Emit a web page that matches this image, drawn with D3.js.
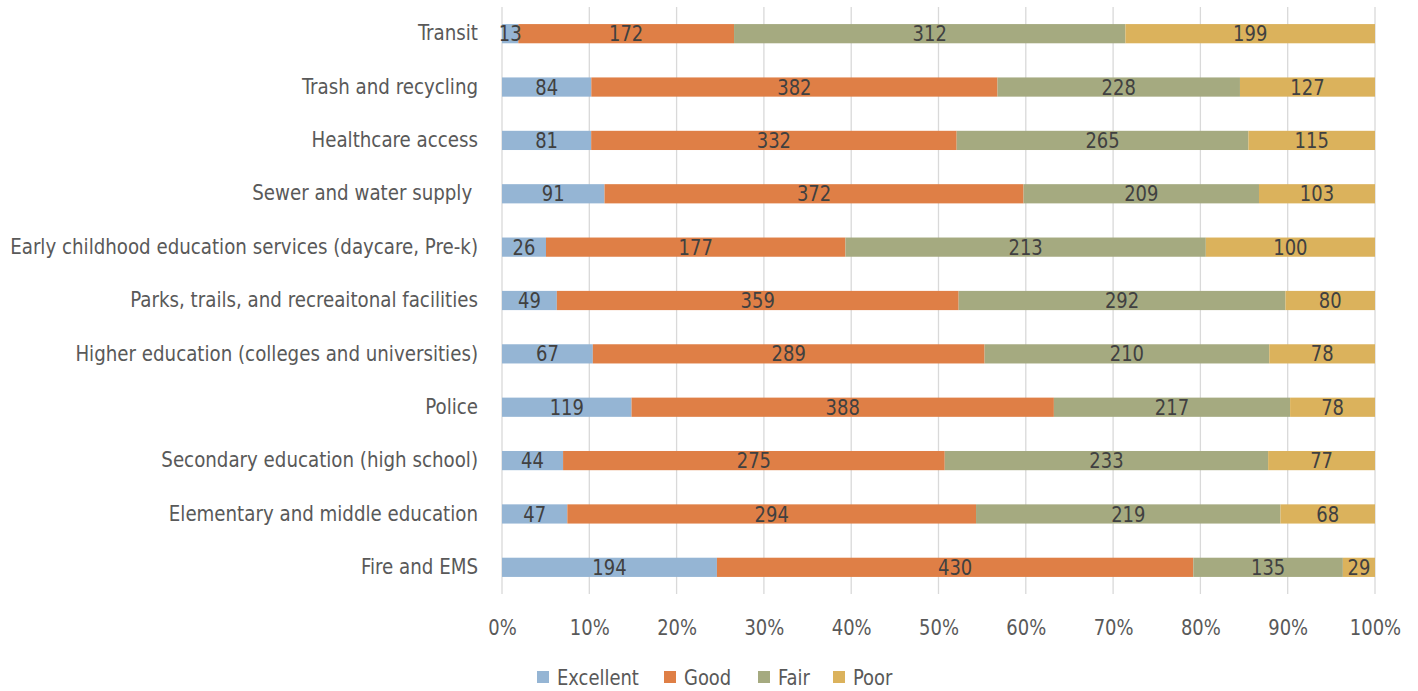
<!DOCTYPE html>
<html>
<head>
<meta charset="utf-8">
<script src="https://cdn.jsdelivr.net/npm/d3@7"></script>
<style>
  html, body { margin: 0; padding: 0; background: #fff; }
  svg { display: block; }
  text { font-family: "DejaVu Sans Condensed", "Liberation Sans Narrow", sans-serif; }
</style>
</head>
<body>
<svg id="chart" width="1418" height="691"></svg>
<script>
// Service ratings, top row first
const categories = [
  "Transit",
  "Trash and recycling",
  "Healthcare access",
  "Sewer and water supply ",
  "Early childhood education services (daycare, Pre-k)",
  "Parks, trails, and recreaitonal facilities",
  "Higher education (colleges and universities)",
  "Police",
  "Secondary education (high school)",
  "Elementary and middle education",
  "Fire and EMS"
];
const seriesNames = ["Excellent", "Good", "Fair", "Poor"];
const excellent = [13, 84, 81, 91, 26, 49, 67, 119, 44, 47, 194];
const good      = [172, 382, 332, 372, 177, 359, 289, 388, 275, 294, 430];
const fair      = [312, 228, 265, 209, 213, 292, 210, 217, 233, 219, 135];
const poor      = [199, 127, 115, 103, 100, 80, 78, 78, 77, 68, 29];
const tickValues = [0, 0.1, 0.2, 0.3, 0.4, 0.5, 0.6, 0.7, 0.8, 0.9, 1.0];

const colors = ["#95b5d4", "#df7f46", "#a5aa80", "#dbb25c"];
const SQ = 0.95;          // horizontal squeeze for the condensed lettering
const SQ_CAT = 0.965;     // squeeze for the category names
const FS = 21;

const rows = categories.map((c, i) => ({
  category: c,
  Excellent: excellent[i],
  Good: good[i],
  Fair: fair[i],
  Poor: poor[i]
}));

const svg = d3.select("#chart");
const margin = { left: 502, right: 43, top: 7, bottom: 97 };
const W = 1418, H = 691;

const x = d3.scaleLinear().domain([0, 1]).range([margin.left, W - margin.right]);
const y = d3.scaleBand().domain(categories).range([margin.top, H - margin.bottom]).paddingInner(0.64).paddingOuter(0.32);

// gridlines
svg.append("g")
  .selectAll("line")
  .data(tickValues)
  .join("line")
  .attr("x1", d => x(d)).attr("x2", d => x(d))
  .attr("y1", margin.top).attr("y2", H - margin.bottom)
  .attr("stroke", "#d9d9d9").attr("stroke-width", 1.3);

// x tick labels
const xAxis = d3.axisBottom(x).tickValues(tickValues).tickFormat(d3.format(".0%")).tickSize(0).tickPadding(0);
const gx = svg.append("g").attr("transform", `translate(0,${H - margin.bottom + 34})`).call(xAxis);
gx.select(".domain").remove();
gx.selectAll("text")
  .attr("font-size", FS).attr("fill", "#595959").attr("dy", "0.35em").attr("y", 0)
  .attr("transform", `scale(${SQ},1)`)
  .style("font-family", "\"DejaVu Sans Condensed\", sans-serif");

// category labels
const pad = 24;
const yAxis = d3.axisLeft(y).tickSize(0).tickPadding(pad);
const gy = svg.append("g").attr("transform", `translate(${margin.left},0)`).call(yAxis);
gy.select(".domain").remove();
gy.selectAll("text")
  .attr("font-size", FS).attr("fill", "#595959")
  .attr("x", -pad / SQ_CAT)
  .attr("transform", `scale(${SQ_CAT},1)`)
  .style("white-space", "pre")
  .style("font-family", "\"DejaVu Sans Condensed\", sans-serif");

// stacked shares
const stack = d3.stack().keys(seriesNames).offset(d3.stackOffsetExpand);
const layers = stack(rows);

const g = svg.append("g");
layers.forEach((layer, si) => {
  g.append("g").selectAll("rect")
    .data(layer)
    .join("rect")
    .attr("x", d => x(d[0]))
    .attr("width", d => x(d[1]) - x(d[0]))
    .attr("y", d => y(d.data.category))
    .attr("height", y.bandwidth())
    .attr("fill", colors[si]);
});

// value labels centred in segments
layers.forEach((layer, si) => {
  g.append("g").selectAll("text")
    .data(layer)
    .join("text")
    .attr("transform", d => `translate(${(x(d[0]) + x(d[1])) / 2},${y(d.data.category) + y.bandwidth() / 2}) scale(${SQ},1)`)
    .attr("dy", "0.36em")
    .attr("text-anchor", "middle")
    .attr("font-size", FS)
    .attr("fill", "#404040")
    .text(d => d.data[layer.key]);
});

// legend
const legendX = [537, 664, 758, 833];
const legend = svg.append("g");
seriesNames.forEach((name, i) => {
  legend.append("rect")
    .attr("x", legendX[i]).attr("y", 671)
    .attr("width", 12).attr("height", 12)
    .attr("fill", colors[i]);
  legend.append("text")
    .attr("transform", `translate(${legendX[i] + 20},677) scale(${SQ},1)`)
    .attr("dy", "0.36em")
    .attr("font-size", FS)
    .attr("fill", "#595959")
    .text(name);
});
</script>
</body>
</html>
